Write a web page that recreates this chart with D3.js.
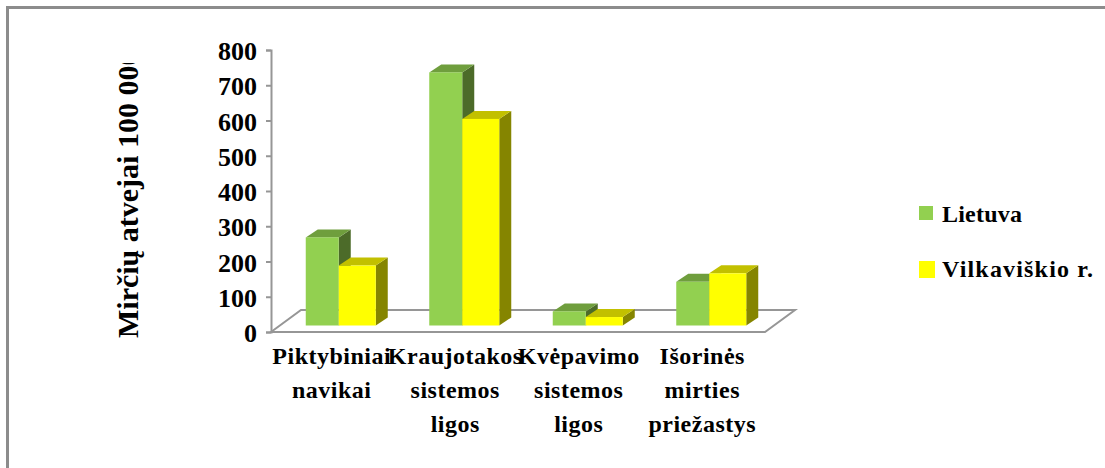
<!DOCTYPE html>
<html>
<head>
<meta charset="utf-8">
<script src="https://cdn.jsdelivr.net/npm/d3@7"></script>
<style>
  html, body { margin: 0; padding: 0; background: #fff; overflow: hidden; }
  text { font-family: "Liberation Serif", serif; font-weight: bold; fill: #000; }
</style>
</head>
<body>
<div id="chart"></div>
<script>
var categories = [
  ["Piktybiniai", "navikai"],
  ["Kraujotakos", "sistemos", "ligos"],
  ["Kvėpavimo", "sistemos", "ligos"],
  ["Išorinės", "mirties", "priežastys"]
];
var seriesNames = ["Lietuva", "Vilkaviškio r."];
var lietuva = [250, 718, 40, 124];
var vilkaviskio = [170, 586, 24, 148];
var yTicks = [0, 100, 200, 300, 400, 500, 600, 700, 800];
var yTitle = "Mirčių atvejai 100 000";

var colors = ["#92d050", "#ffff00"];
var topColors = ["#6f9e3d", "#c2c000"];
var sideColors = ["#4c6b29", "#858500"];
var axisColor = "#969696";

var svg = d3.select("#chart").append("svg")
  .attr("width", 1105)
  .attr("height", 468);

// outer frame, right and bottom run off the picture
svg.append("path")
  .attr("d", "M7.5,468V7.5H1105")
  .attr("fill", "none")
  .attr("stroke", "#8c8c8c")
  .attr("stroke-width", 3);

var left = 271, right = 765, top_ = 50, bottom = 332;
var depthX = 30, depthY = 22;

var x = d3.scaleBand().domain(d3.range(categories.length)).range([left, right]);
var y = d3.scaleLinear().domain([0, 800]).range([bottom, top_]);

// floor
var g = svg.append("g");
g.append("path")
  .attr("d", "M" + left + "," + bottom + "L" + (left + depthX) + "," + (bottom - depthY)
    + "H" + (right + depthX) + "L" + right + "," + bottom + "Z")
  .attr("fill", "#fff")
  .attr("stroke", axisColor)
  .attr("stroke-width", 2);

var yAxis = g.append("g")
  .attr("transform", "translate(" + left + ",0)")
  .call(d3.axisLeft(y).tickValues(yTicks).tickSize(5).tickPadding(9));
yAxis.selectAll("path, line").attr("stroke", axisColor).attr("stroke-width", 2);
yAxis.selectAll("text")
  .attr("dy", "0.37em")
  .style("font-family", '"Liberation Serif", serif')
  .style("font-weight", "bold")
  .style("font-size", "26px")
  .attr("fill", "#000");

// x labels, one line each
categories.forEach(function (lines, i) {
  var t = svg.append("text")
    .attr("text-anchor", "middle")
    .style("font-size", "24px")
    .style("letter-spacing", "0.5px");
  lines.forEach(function (line, j) {
    t.append("tspan")
      .attr("x", x(i) + x.bandwidth() / 2 - 1)
      .attr("y", 364 + j * 34)
      .text(line);
  });
});

// bars sit halfway into the floor depth
var barBase = 6.5;
var barShiftX = 6;
var barDx = 12, barDy = 8;
var inner = d3.scaleBand().domain([0, 1]).range([0, 66]);
var unit = (bottom - top_) / 800;

function drawBar(i, s, value) {
  var barW = inner.bandwidth() + (s == 1 ? 4 : 0); // yellow bars are a bit wider
  var bx = x(i) + (x.bandwidth() - 66) / 2 + barShiftX + inner(s);
  var base = bottom - barBase;
  var h = value * unit;
  var b = svg.append("g");
  b.append("path")
    .attr("d", "M" + (bx + barW) + "," + base + "l" + barDx + "," + (-barDy)
      + "v" + (-h) + "l" + (-barDx) + "," + barDy + "Z")
    .attr("fill", sideColors[s]);
  b.append("path")
    .attr("d", "M" + bx + "," + (base - h) + "l" + barDx + "," + (-barDy)
      + "h" + barW + "l" + (-barDx) + "," + barDy + "Z")
    .attr("fill", topColors[s]);
  b.append("rect")
    .attr("x", bx)
    .attr("y", base - h)
    .attr("width", barW)
    .attr("height", h)
    .attr("fill", colors[s]);
}

categories.forEach(function (d, i) {
  drawBar(i, 0, lietuva[i]);
  drawBar(i, 1, vilkaviskio[i]);
});

// legend
var legendBase = [222, 277];
var legendWidth = [80, 151];
seriesNames.forEach(function (name, i) {
  var size = i == 0 ? 14 : 17;
  svg.append("rect")
    .attr("x", 919)
    .attr("y", (i == 0 ? 206 : 261))
    .attr("width", size - (i == 0 ? 0 : 1))
    .attr("height", size)
    .attr("fill", colors[i]);
  svg.append("text")
    .attr("x", 942)
    .attr("y", legendBase[i])
    .attr("textLength", legendWidth[i])
    .style("font-size", "24px")
    .text(name);
});

// y title, cut off at the top like the original box
svg.append("clipPath").attr("id", "titleClip")
  .append("rect").attr("x", 100).attr("y", 63).attr("width", 50).attr("height", 290);
svg.append("g")
  .attr("clip-path", "url(#titleClip)")
  .append("text")
  .attr("transform", "translate(138,338) rotate(-90)")
  .style("font-size", "30px")
  .text(yTitle);
</script>
</body>
</html>
